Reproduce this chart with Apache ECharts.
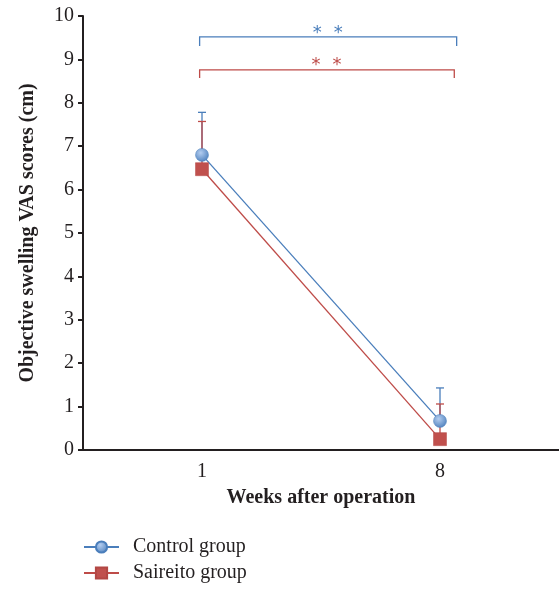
<!DOCTYPE html>
<html style="height: 100%">
<head>
<meta charset="utf-8">
</head>
<body style="height: 100%; margin: 0; background: #fff">
<div id="container" style="height: 590px; width: 559px"></div>
<script type="text/javascript" src="https://cdn.jsdelivr.net/npm/echarts/dist/echarts.min.js"></script>
<script type="text/javascript">
// weeks after operation
var weeks = ['1', '8'];
var controlMean = [6.8, 0.67];
var controlUpper = [7.78, 1.43];
var saireitoMean = [6.47, 0.25];
var saireitoUpper = [7.57, 1.06];
// significance brackets: [top, drop, from (category pos), to (category pos)]
var controlBracket = [9.52, 9.31, -0.01, 1.07];
var saireitoBracket = [8.76, 8.57, -0.01, 1.06];

var blue = '#4a7ebb';
var red = '#be4b48';
var serif = '"Liberation Serif", "DejaVu Serif", serif';

var dom = document.getElementById('container');
var myChart = echarts.init(dom);

function errData(mean, upper) {
    var out = [];
    for (var i = 0; i < mean.length; i++) {
        out.push([i, mean[i], upper[i]]);
    }
    return out;
}

function errBar(color) {
    return function (params, api) {
        var p0 = api.coord([api.value(0), api.value(1)]);
        var p1 = api.coord([api.value(0), api.value(2)]);
        var style = {stroke: color, lineWidth: 1.3};
        return {
            type: 'group',
            children: [
                {type: 'line', shape: {x1: p0[0], y1: p0[1], x2: p1[0], y2: p1[1]}, style: style},
                {type: 'line', shape: {x1: p1[0] - 4, y1: p1[1], x2: p1[0] + 4, y2: p1[1]}, style: style}
            ]
        };
    };
}

function bracket(color) {
    return function (params, api) {
        var a = api.coord([0, api.value(1)]);
        var b = api.coord([1, api.value(1)]);
        var d = api.coord([0, api.value(2)]);
        var w = b[0] - a[0];
        var x1 = a[0] + api.value(3) * w;
        var x2 = a[0] + api.value(4) * w;
        var y = a[1];
        var style = {stroke: color, lineWidth: 1.3, fill: null};
        var cx = (x1 + x2) / 2;
        var font = '18px "DejaVu Sans"';
        return {
            type: 'group',
            children: [
                {type: 'polyline', shape: {points: [[x1, d[1]], [x1, y], [x2, y], [x2, d[1]]]}, style: style},
                {type: 'text', style: {text: '*', x: cx - 11, y: y - 4, fill: color, font: font, align: 'center', verticalAlign: 'middle'}},
                {type: 'text', style: {text: '*', x: cx + 10, y: y - 4, fill: color, font: font, align: 'center', verticalAlign: 'middle'}}
            ]
        };
    };
}

var option = {
    animation: false,
    textStyle: {fontFamily: serif, color: '#231f20'},
    grid: {left: 83, right: 0, top: 16, bottom: 140},
    legend: {
        orient: 'vertical',
        left: 83,
        top: 537,
        padding: 0,
        itemWidth: 35,
        itemHeight: 14,
        itemGap: 6,
        textStyle: {fontFamily: serif, fontSize: 20, color: '#231f20', padding: [0, 0, 0, 9]},
        data: ['Control group', 'Saireito group']
    },
    xAxis: {
        type: 'category',
        data: weeks,
        boundaryGap: true,
        name: 'Weeks after operation',
        nameLocation: 'middle',
        nameGap: 38,
        nameTextStyle: {fontFamily: serif, fontSize: 20, fontWeight: 'bold', color: '#231f20'},
        axisLine: {lineStyle: {color: '#231f20', width: 2}},
        axisTick: {show: false},
        axisLabel: {fontFamily: serif, fontSize: 20, color: '#231f20', margin: 12}
    },
    yAxis: {
        type: 'value',
        min: 0,
        max: 10,
        interval: 1,
        name: 'Objective swelling VAS scores (cm)',
        nameLocation: 'middle',
        nameGap: 45,
        nameTextStyle: {fontFamily: serif, fontSize: 20, fontWeight: 'bold', color: '#231f20'},
        axisLine: {show: true, lineStyle: {color: '#231f20', width: 2}},
        axisTick: {show: true, length: 5, lineStyle: {color: '#231f20', width: 2}},
        axisLabel: {fontFamily: serif, fontSize: 20, color: '#231f20', margin: 9},
        splitLine: {show: false}
    },
    series: [
        {
            type: 'custom',
            z: 1,
            renderItem: errBar(blue),
            data: errData(controlMean, controlUpper),
            encode: {x: 0, y: [1, 2]}
        },
        {
            type: 'custom',
            z: 1,
            renderItem: errBar(red),
            data: errData(saireitoMean, saireitoUpper),
            encode: {x: 0, y: [1, 2]}
        },
        {
            name: 'Saireito group',
            type: 'line',
            data: saireitoMean,
            symbol: 'rect',
            symbolSize: 13,
            lineStyle: {color: red, width: 1.3},
            itemStyle: {color: '#c0504d', borderColor: '#b24744', borderWidth: 0.5}
        },
        {
            name: 'Control group',
            type: 'line',
            data: controlMean,
            symbol: 'circle',
            symbolSize: 13,
            lineStyle: {color: blue, width: 1.3},
            itemStyle: {
                color: new echarts.graphic.RadialGradient(0.4, 0.35, 0.7, [
                    {offset: 0, color: '#b3cdf0'},
                    {offset: 1, color: '#4f81bd'}
                ]),
                borderColor: '#4a7ebb',
                borderWidth: 0.5
            }
        },
        {
            type: 'custom',
            renderItem: bracket(blue),
            data: [[0].concat(controlBracket)],
            encode: {x: 0, y: [1, 2]}
        },
        {
            type: 'custom',
            renderItem: bracket(red),
            data: [[0].concat(saireitoBracket)],
            encode: {x: 0, y: [1, 2]}
        }
    ]
};

myChart.setOption(option, true);
</script>
</body>
</html>
